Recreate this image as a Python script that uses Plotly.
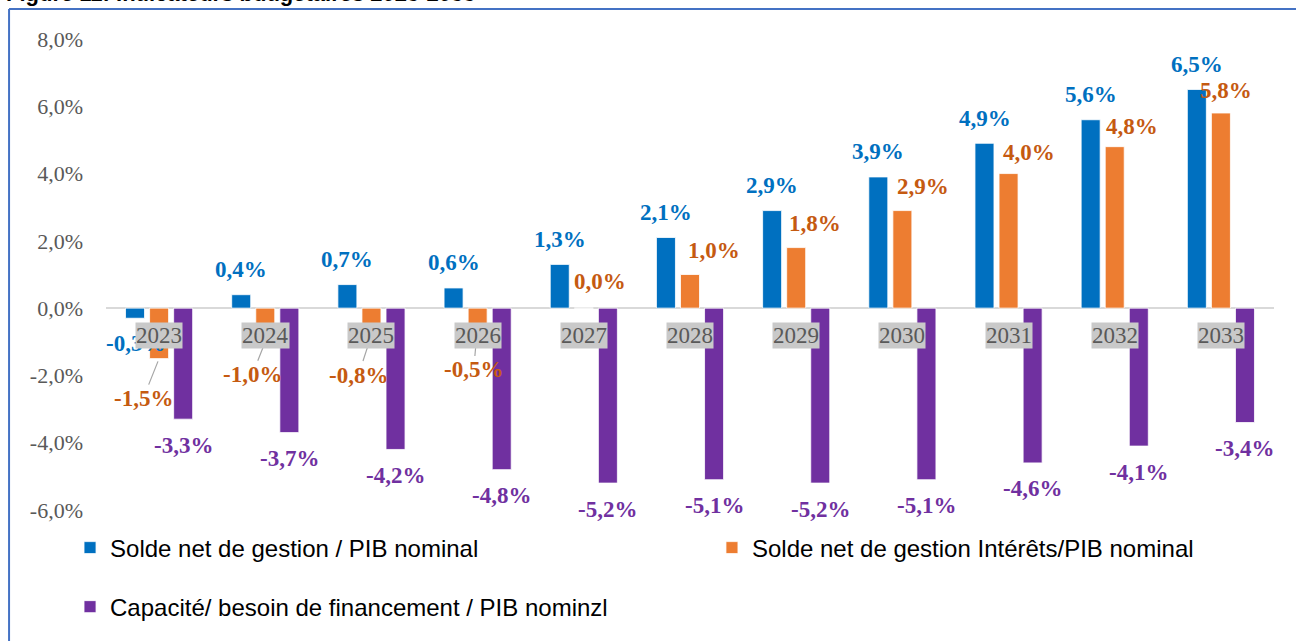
import plotly.graph_objects as go

years = ["2023", "2024", "2025", "2026", "2027", "2028", "2029", "2030", "2031", "2032", "2033"]
solde_net = [-0.3, 0.4, 0.7, 0.6, 1.3, 2.1, 2.9, 3.9, 4.9, 5.6, 6.5]
solde_interets = [-1.5, -1.0, -0.8, -0.5, 0.0, 1.0, 1.8, 2.9, 4.0, 4.8, 5.8]
capacite = [-3.3, -3.7, -4.2, -4.8, -5.2, -5.1, -5.2, -5.1, -4.6, -4.1, -3.4]
y_ticks = [-6, -4, -2, 0, 2, 4, 6, 8]

names = ["Solde net de gestion / PIB nominal",
         "Solde net de gestion Intérêts/PIB nominal",
         "Capacité/ besoin de financement / PIB nominzl"]
bar_colors = ["#0070C0", "#ED7D31", "#7030A0"]
label_colors = ["#0070C0", "#C55A11", "#7030A0"]
title_text = "Figure 11: Indicateurs budgétaires 2023-2033"

# label placement (pixels) for the orange series, as placed in the source chart
orange_dx = [-16, -13, -13, -4, 16, 24, 19, 21, 20, 17, 5]
orange_dy = [-40, -33, -40, -45, 27, 24, 24, 24, 21, 20, 23]

def fmt(v):
    return f"{v:.1f}".replace(".", ",") + "%"

fig = go.Figure()
series = [solde_net, solde_interets, capacite]
legends = ["legend", "legend2", "legend3"]
for vals, name, col, lg in zip(series, names, bar_colors, legends):
    fig.add_trace(go.Bar(x=years, y=vals, name=name, legend=lg, showlegend=True,
                         marker=dict(color=col, line=dict(color="white", width=0.8))))

serif = "Liberation Serif, Times New Roman, serif"
ann = []
# blue labels (x given as category index)
for i, v in enumerate(solde_net):
    ann.append(dict(x=i, y=v, text=fmt(v), showarrow=False, xshift=-24,
                    yshift=25 if v >= 0 else -25,
                    font=dict(family=serif, size=23, color=label_colors[0], weight="bold")))
# purple labels
for i, v in enumerate(capacite):
    ann.append(dict(x=i, y=v, text=fmt(v), showarrow=False, xshift=24, yshift=-26,
                    font=dict(family=serif, size=23, color=label_colors[2], weight="bold")))
# orange labels
for i, (v, dx, dy) in enumerate(zip(solde_interets, orange_dx, orange_dy)):
    f = dict(family=serif, size=23, color=label_colors[1], weight="bold")
    if v < 0:
        ann.append(dict(x=i, y=v, text=fmt(v), showarrow=True, arrowhead=0,
                        arrowwidth=1.2, arrowcolor="#A6A6A6", ax=dx, ay=-dy,
                        standoff=3, font=f))
    else:
        ann.append(dict(x=i, y=v, text=fmt(v), showarrow=False, xshift=dx, yshift=dy, font=f))
# category labels with grey boxes
for i, yr in enumerate(years):
    ann.append(dict(x=i, y=0, text=yr, showarrow=False, yshift=-27, bgcolor="#C9C9C9",
                    borderpad=0, font=dict(family=serif, size=23, color="#595959")))
# partially visible title
ann.append(dict(xref="paper", yref="paper", x=-0.0875, y=1.0660, xanchor="left", yanchor="bottom",
                text=title_text, showarrow=False,
                font=dict(family="Liberation Sans, Arial, sans-serif", size=22, color="black", weight="bold")))

leg_font = dict(family="Liberation Sans, Arial, sans-serif", size=24, color="black")
fig.update_layout(
    width=1296, height=641,
    margin=dict(l=106, r=22, t=39, b=131, autoexpand=False),
    paper_bgcolor="white", plot_bgcolor="white",
    barmode="group", bargap=0.32, bargroupgap=0.21,
    separators=", ",
    annotations=ann,
    legend=dict(x=-0.0308, y=-0.0807, xanchor="left", yanchor="middle", font=leg_font,
                bgcolor="rgba(0,0,0,0)"),
    legend2=dict(x=0.5188, y=-0.0807, xanchor="left", yanchor="middle", font=leg_font,
                 bgcolor="rgba(0,0,0,0)"),
    legend3=dict(x=-0.0308, y=-0.206, xanchor="left", yanchor="middle", font=leg_font,
                 bgcolor="rgba(0,0,0,0)"),
    xaxis=dict(type="category", range=[-0.5, len(years) - 0.5], showticklabels=False,
               showgrid=False, showline=False, ticks="", zeroline=False),
    yaxis=dict(range=[-6, 8], tickvals=y_ticks, ticktext=[fmt(t) for t in y_ticks],
               showgrid=False, zeroline=True, zerolinecolor="#D9D9D9", zerolinewidth=2,
               showline=False, ticks="", ticklabelstandoff=22,
               tickfont=dict(family=serif, size=22, color="#595959")),
    shapes=[
        dict(type="line", xref="paper", yref="paper", x0=-0.0830, x1=1.05, y0=1.0637, y1=1.0637,
             line=dict(color="#4472C4", width=2)),
        dict(type="line", xref="paper", yref="paper", x0=-0.0830, x1=-0.0830, y0=1.0637, y1=-0.35,
             line=dict(color="#4472C4", width=2)),
    ],
)

fig.write_html("out.html", config={"displayModeBar": False},
               post_script="document.body.style.margin='0';")
